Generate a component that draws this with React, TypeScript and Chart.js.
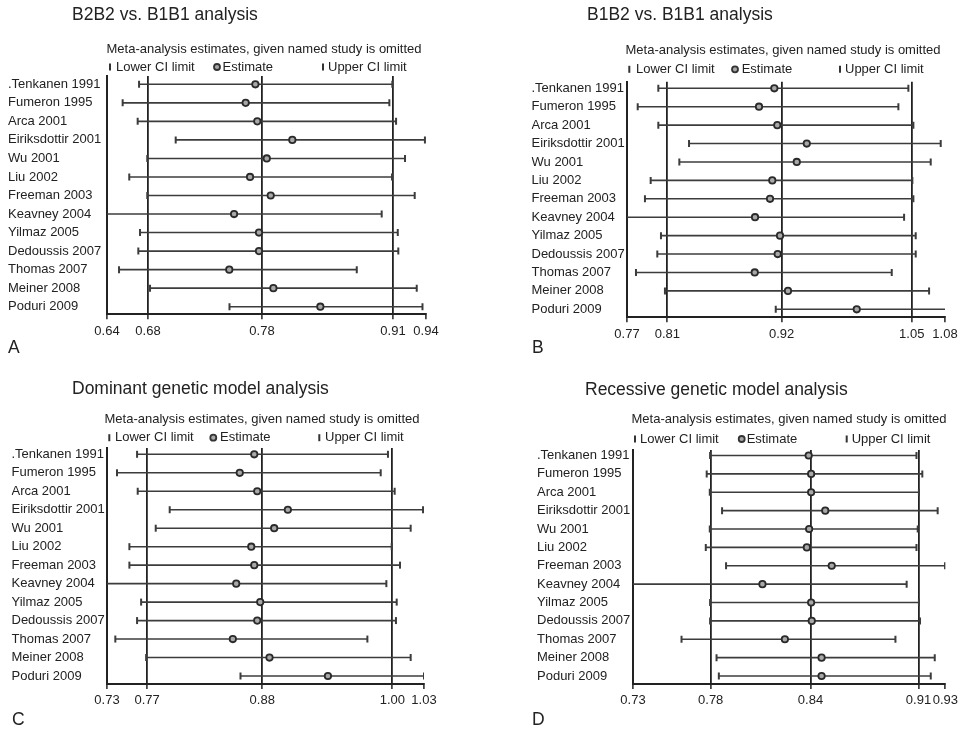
import React, { useEffect, useRef } from "react";
import { Chart, registerables } from "chart.js";

Chart.register(...registerables);

// ---------- data ----------
const studies = [
  ".Tenkanen 1991",
  "Fumeron 1995",
  "Arca 2001",
  "Eiriksdottir 2001",
  "Wu 2001",
  "Liu 2002",
  "Freeman 2003",
  "Keavney 2004",
  "Yilmaz 2005",
  "Dedoussis 2007",
  "Thomas 2007",
  "Meiner 2008",
  "Poduri 2009",
];

const legendLabels = ["Lower CI limit", "Estimate", "Upper CI limit"];
const subtitleText = "Meta-analysis estimates, given named study is omitted";

// Panel A: B2B2 vs. B1B1
const aLower = [0.6676, 0.6522, 0.6663, 0.702, 0.6753, 0.6584, 0.6753, 0.63, 0.6685, 0.6669, 0.6488, 0.6779, 0.7525];
const aEstimate = [0.7768, 0.7677, 0.7786, 0.8115, 0.7875, 0.7718, 0.7912, 0.7568, 0.7802, 0.7802, 0.7523, 0.7937, 0.8378];
const aUpper = [0.9054, 0.9026, 0.9089, 0.936, 0.9173, 0.9051, 0.9264, 0.8954, 0.9105, 0.911, 0.872, 0.9283, 0.9337];
const aTicks = [0.6375, 0.676, 0.783, 0.906, 0.937];

// Panel B: B1B2 vs. B1B1
const bLower = [0.8012, 0.781, 0.8012, 0.8313, 0.8218, 0.7937, 0.7881, 0.765, 0.8038, 0.8002, 0.7793, 0.8077, 0.9163];
const bEstimate = [0.9149, 0.8999, 0.9178, 0.9467, 0.9369, 0.9129, 0.9107, 0.896, 0.9205, 0.9182, 0.8957, 0.9283, 0.9957];
const bUpper = [1.0463, 1.0365, 1.0512, 1.078, 1.0682, 1.0502, 1.0512, 1.0421, 1.0535, 1.0535, 1.03, 1.0666, 1.0835];
const bTicks = [0.7705, 0.81, 0.922, 1.0496, 1.0822];

// Panel C: Dominant genetic model
const cLower = [0.7616, 0.7428, 0.7622, 0.7922, 0.7791, 0.7544, 0.7544, 0.728, 0.7654, 0.7616, 0.7412, 0.7701, 0.8586];
const cEstimate = [0.8715, 0.8579, 0.8743, 0.903, 0.8902, 0.8687, 0.8715, 0.8546, 0.8771, 0.8743, 0.8514, 0.8858, 0.9406];
const cUpper = [0.9969, 0.9901, 1.0032, 1.0298, 1.0182, 1.0004, 1.0082, 0.9954, 1.0051, 1.0044, 0.9776, 1.0182, 1.0307];
const cTicks = [0.7334, 0.771, 0.879, 1.001, 1.0307];

// Panel D: Recessive genetic model
const dLower = [0.7766, 0.7744, 0.7764, 0.7844, 0.7764, 0.7738, 0.787, 0.72, 0.7766, 0.7766, 0.758, 0.7808, 0.7823];
const dEstimate = [0.8408, 0.8424, 0.8424, 0.8516, 0.8411, 0.8396, 0.8558, 0.8107, 0.8424, 0.8428, 0.8253, 0.8492, 0.8492];
const dUpper = [0.911, 0.9148, 0.9126, 0.9248, 0.9118, 0.911, 0.9296, 0.9046, 0.9126, 0.9133, 0.8973, 0.9229, 0.9203];
const dTicks = [0.7264, 0.777, 0.842, 0.9123, 0.9298];

// ---------- styles ----------
const FAMILY = "'Liberation Sans', Arial, Helvetica, sans-serif";
const TEXT = "#222";
const AXIS = "#222";
const LINE = "#3c3c3c";
const CANVAS_W = 481;
const CANVAS_H = 365;
const XAXIS_H = 30;

type PanelCfg = {
  title: string;
  letter: string;
  lower: number[];
  estimate: number[];
  upper: number[];
  ticks: number[];
  canvasLeft: number;
  canvasTop: number;
  area: { left: number; right: number; top: number; bottom: number };
  yMin: number;
  yMax: number;
  labelX: number;
  titleX: number;
  titleY: number;
  subX: number;
  subY: number;
  legendY: number;
  legendMarkers: number[];
  legendTexts: number[];
  letterX: number;
  letterY: number;
};

const panels: PanelCfg[] = [
  {
    title: "B2B2 vs. B1B1 analysis",
    letter: "A",
    lower: aLower, estimate: aEstimate, upper: aUpper, ticks: aTicks,
    canvasLeft: 0, canvasTop: 0,
    area: { left: 107, right: 426, top: 76, bottom: 314.3 },
    yMin: 0.552, yMax: 13.41,
    labelX: 8,
    titleX: 72, titleY: 15,
    subX: 264, subY: 49,
    legendY: 67, legendMarkers: [110, 217, 323], legendTexts: [116, 222.5, 328],
    letterX: 8, letterY: 348,
  },
  {
    title: "B1B2 vs. B1B1 analysis",
    letter: "B",
    lower: bLower, estimate: bEstimate, upper: bUpper, ticks: bTicks,
    canvasLeft: 481, canvasTop: 0,
    area: { left: 627, right: 945, top: 81.7, bottom: 317.3 },
    yMin: 0.642, yMax: 13.434,
    labelX: 531.5,
    titleX: 587, titleY: 15,
    subX: 783, subY: 50,
    legendY: 69.3, legendMarkers: [629.3, 735, 840], legendTexts: [636, 741.7, 845],
    letterX: 532, letterY: 348,
  },
  {
    title: "Dominant genetic model analysis",
    letter: "C",
    lower: cLower, estimate: cEstimate, upper: cUpper, ticks: cTicks,
    canvasLeft: 0, canvasTop: 365,
    area: { left: 107, right: 424, top: 448, bottom: 684 },
    yMin: 0.659, yMax: 13.433,
    labelX: 11.5,
    titleX: 72, titleY: 389,
    subX: 262, subY: 419,
    legendY: 437.7, legendMarkers: [109.3, 213.3, 319.3], legendTexts: [115, 220, 325],
    letterX: 12, letterY: 720,
  },
  {
    title: "Recessive genetic model analysis",
    letter: "D",
    lower: dLower, estimate: dEstimate, upper: dUpper, ticks: dTicks,
    canvasLeft: 481, canvasTop: 365,
    area: { left: 633, right: 950, top: 450, bottom: 684 },
    yMin: 0.7, yMax: 13.435,
    labelX: 537,
    titleX: 585, titleY: 390,
    subX: 789, subY: 419.3,
    legendY: 439, legendMarkers: [635, 741.7, 846.7], legendTexts: [640, 746.7, 851.7],
    letterX: 532, letterY: 720,
  },
];

function ForestPanel({ cfg }: { cfg: PanelCfg }) {
  const ref = useRef<HTMLCanvasElement>(null);

  useEffect(() => {
    const canvas = ref.current;
    if (!canvas) return;
    const { lower, estimate, upper, ticks } = cfg;
    const xMin = ticks[0];
    const xMax = ticks[ticks.length - 1];
    const ox = cfg.canvasLeft;
    const oy = cfg.canvasTop;

    const textPlugin = {
      id: "panelText",
      afterDraw(chart: any) {
        const c = chart.ctx as CanvasRenderingContext2D;
        c.save();
        c.fillStyle = TEXT;
        c.textBaseline = "middle";
        // title
        c.font = `17.5px ${FAMILY}`;
        c.textAlign = "left";
        c.fillText(cfg.title, cfg.titleX - ox, cfg.titleY - oy);
        // subtitle
        c.font = `13px ${FAMILY}`;
        c.textAlign = "center";
        c.fillText(subtitleText, cfg.subX - ox, cfg.subY - oy);
        // legend
        c.textAlign = "left";
        legendLabels.forEach((lab, k) => {
          const mx = cfg.legendMarkers[k] - ox;
          const my = cfg.legendY - oy;
          c.strokeStyle = "#333";
          if (k === 1) {
            c.beginPath();
            c.lineWidth = 1.8;
            c.fillStyle = "#a8a8a8";
            c.arc(mx, my, 3, 0, Math.PI * 2);
            c.fill();
            c.stroke();
          } else {
            c.beginPath();
            c.lineWidth = 2;
            c.moveTo(mx, my - 3.5);
            c.lineTo(mx, my + 3.5);
            c.stroke();
          }
          c.fillStyle = TEXT;
          c.fillText(lab, cfg.legendTexts[k] - ox, my);
        });
        // panel letter
        c.font = `17.5px ${FAMILY}`;
        c.fillText(cfg.letter, cfg.letterX - ox, cfg.letterY - oy);
        c.restore();
      },
    };

    const rowDatasets = studies.map((s, i) => ({
      type: "line" as const,
      label: s,
      data: [
        { x: lower[i], y: i + 1 },
        { x: upper[i], y: i + 1 },
      ],
      borderColor: LINE,
      borderWidth: 1.6,
      pointStyle: "line" as const,
      pointRotation: 90,
      pointRadius: 3.5,
      pointBorderWidth: 2,
      pointBorderColor: LINE,
      pointBackgroundColor: LINE,
      order: 2,
    }));

    const estDataset = {
      type: "line" as const,
      label: "Estimate",
      data: estimate.map((v, i) => ({ x: v, y: i + 1 })),
      showLine: false,
      pointStyle: "circle" as const,
      pointRadius: 3.2,
      pointBorderWidth: 1.8,
      pointBorderColor: "#2a2a2a",
      pointBackgroundColor: "#a8a8a8",
      order: 1,
    };

    const chart = new Chart(canvas, {
      type: "line",
      data: { datasets: [...rowDatasets, estDataset] as any },
      options: {
        animation: false,
        responsive: false,
        events: [],
        layout: {
          padding: {
            left: cfg.labelX - ox,
            top: cfg.area.top - oy,
            right: ox + CANVAS_W - cfg.area.right,
            bottom: oy + CANVAS_H - cfg.area.bottom - XAXIS_H,
          },
        },
        plugins: {
          legend: { display: false },
          tooltip: { enabled: false },
          title: { display: false },
        },
        scales: {
          x: {
            type: "linear",
            min: xMin,
            max: xMax,
            afterBuildTicks: (s: any) => {
              s.ticks = ticks.map((v) => ({ value: v }));
            },
            afterFit: (s: any) => {
              s.height = XAXIS_H;
            },
            ticks: {
              autoSkip: false,
              maxRotation: 0,
              minRotation: 0,
              padding: 4,
              color: TEXT,
              font: { family: FAMILY, size: 13 },
              callback: (v: any) => Number(v).toFixed(2),
            },
            grid: {
              color: (ctx: any) =>
                ctx.index === 0 || ctx.index === ticks.length - 1 ? "rgba(0,0,0,0)" : AXIS,
              lineWidth: 1.8,
              drawTicks: true,
              tickLength: 5,
              tickColor: AXIS,
              tickWidth: 1.5,
            },
            border: { display: true, color: AXIS, width: 2 },
          },
          y: {
            type: "linear",
            reverse: true,
            min: cfg.yMin,
            max: cfg.yMax,
            afterBuildTicks: (s: any) => {
              s.ticks = studies.map((_, i) => ({ value: i + 1 }));
            },
            afterFit: (s: any) => {
              s.width = cfg.area.left - cfg.labelX;
            },
            ticks: {
              autoSkip: false,
              crossAlign: "far",
              color: TEXT,
              font: { family: FAMILY, size: 13 },
              callback: (v: any) => studies[Math.round(Number(v)) - 1],
            },
            grid: { display: false },
            border: { display: true, color: AXIS, width: 2 },
          },
        },
      } as any,
      plugins: [textPlugin],
    });

    return () => chart.destroy();
  }, [cfg]);

  return (
    <canvas
      ref={ref}
      width={CANVAS_W}
      height={CANVAS_H}
      style={{
        position: "absolute",
        left: cfg.canvasLeft,
        top: cfg.canvasTop,
        width: CANVAS_W,
        height: CANVAS_H,
        display: "block",
      }}
    />
  );
}

export default function App() {
  return (
    <div
      style={{
        position: "absolute",
        left: 0,
        top: 0,
        width: 962,
        height: 730,
        background: "#ffffff",
        overflow: "hidden",
      }}
    >
      {panels.map((p) => (
        <ForestPanel key={p.letter} cfg={p} />
      ))}
    </div>
  );
}
